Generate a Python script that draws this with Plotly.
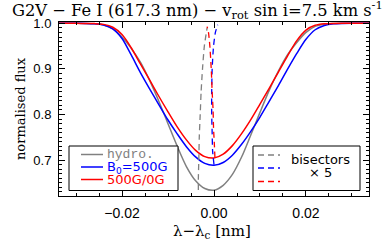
import plotly.graph_objects as go

# ---- data ----
wavelength = [-0.034, -0.032, -0.030, -0.028, -0.026, -0.024, -0.022, -0.020, -0.018, -0.016,
              -0.014, -0.012, -0.010, -0.008, -0.006, -0.004, -0.002, 0.000, 0.002, 0.004,
              0.006, 0.008, 0.010, 0.012, 0.014, 0.016, 0.018, 0.020, 0.022, 0.024,
              0.026, 0.028, 0.030, 0.032, 0.034]

flux_hydro = [1.0000, 1.0000, 1.0000, 0.9999, 0.9990, 0.9963, 0.9879, 0.9701, 0.9452, 0.9149,
              0.8749, 0.8292, 0.7796, 0.7304, 0.6857, 0.6545, 0.6375, 0.6338, 0.6445, 0.6684,
              0.7065, 0.7549, 0.8046, 0.8528, 0.8955, 0.9315, 0.9580, 0.9801, 0.9934, 0.9982,
              0.9996, 1.0000, 1.0000, 1.0000, 1.0000]

flux_b500 = [1.0000, 1.0000, 1.0000, 0.9999, 0.9992, 0.9965, 0.9881, 0.9668, 0.9306, 0.8919,
             0.8562, 0.8218, 0.7878, 0.7574, 0.7293, 0.7068, 0.6925, 0.6885, 0.6946, 0.7106,
             0.7345, 0.7629, 0.7944, 0.8287, 0.8632, 0.8994, 0.9340, 0.9650, 0.9860, 0.9955,
             0.9990, 0.9998, 1.0000, 1.0000, 1.0000]

flux_500_0 = [1.0000, 1.0000, 1.0000, 0.9999, 0.9995, 0.9978, 0.9915, 0.9755, 0.9465, 0.9109,
              0.8757, 0.8400, 0.8058, 0.7728, 0.7442, 0.7212, 0.7075, 0.7045, 0.7130, 0.7316,
              0.7579, 0.7887, 0.8229, 0.8574, 0.8931, 0.9287, 0.9621, 0.9853, 0.9957, 0.9990,
              0.9998, 1.0000, 1.0000, 1.0000, 1.0000]

# bisectors (x5 magnified), position vs flux level
bis_hydro_flux = [0.634, 0.660, 0.700, 0.750, 0.800, 0.850, 0.900, 0.950, 0.990]
bis_hydro_pos = [-0.0034, -0.0034, -0.0033, -0.0032, -0.0030, -0.0028, -0.0025, -0.0021, -0.0015]

bis_b500_flux = [0.690, 0.720, 0.760, 0.800, 0.850, 0.900, 0.950, 0.980, 0.997]
bis_b500_pos = [0.0000, -0.0003, -0.0004, -0.0005, -0.0005, -0.0004, -0.0001, 0.0003, 0.0008]

bis_500_0_flux = [0.705, 0.730, 0.770, 0.810, 0.850, 0.900, 0.950, 0.980, 0.993]
bis_500_0_pos = [0.0002, 0.0001, -0.0001, -0.0002, -0.0004, -0.0006, -0.0009, -0.0012, -0.0015]

series_names = ["hydro.", "B<sub>0</sub>=500G", "500G/0G"]
series_fonts = ["Liberation Mono", "DejaVu Sans", "DejaVu Sans"]
series_colors = ["#808080", "#0000ff", "#ff0000"]
bisector_labels = ["bisectors", "× 5"]

x_ticks = [-0.02, 0.0, 0.02]
y_ticks = [0.7, 0.8, 0.9, 1.0]

title_text = "G2V − Fe I (617.3 nm) − v<sub>rot</sub> sin i=7.5 km s<sup>-1</sup>"
x_title = "λ−λ<sub>c</sub> [nm]"
y_title = "normalised flux"

# ---- figure ----
fig = go.Figure()
profiles = [flux_hydro, flux_b500, flux_500_0]
for name, col, fl in zip(series_names, series_colors, profiles):
    fig.add_trace(go.Scatter(x=wavelength, y=fl, mode="lines", name=name,
                             line=dict(color=col, width=1.5, shape="spline", smoothing=0.8),
                             showlegend=False, hoverinfo="skip"))

bisectors = [(bis_hydro_pos, bis_hydro_flux), (bis_b500_pos, bis_b500_flux), (bis_500_0_pos, bis_500_0_flux)]
for (bx, by), col in zip(bisectors, series_colors):
    fig.add_trace(go.Scatter(x=bx, y=by, mode="lines",
                             line=dict(color=col, width=1.3, dash="6px,4px", shape="spline", smoothing=0.6),
                             showlegend=False, hoverinfo="skip"))

W, H = 387, 246
L, R, T, B = 59, 18, 22, 50
pw, ph = W - L - R, H - T - B

def px(xp):  # screen px -> paper
    return (xp - L) / pw

def py(yp):
    return (H - B - yp) / ph

# legend boxes
shapes = []
annotations = []
shapes.append(dict(type="rect", xref="paper", yref="paper", x0=px(69), x1=px(178), y0=py(190.5), y1=py(146),
                   line=dict(color="black", width=1), fillcolor="white", layer="above"))
shapes.append(dict(type="rect", xref="paper", yref="paper", x0=px(253), x1=px(360), y0=py(190.5), y1=py(146),
                   line=dict(color="black", width=1), fillcolor="white", layer="above"))

left_rows = [154.5, 167, 179.5]
for yy, col, name, fam in zip(left_rows, series_colors, series_names, series_fonts):
    shapes.append(dict(type="line", xref="paper", yref="paper", x0=px(81), x1=px(103), y0=py(yy), y1=py(yy),
                       line=dict(color=col, width=1.5), layer="above"))
    annotations.append(dict(xref="paper", yref="paper", x=px(105), y=py(yy), text=name, showarrow=False,
                            xanchor="left", yanchor="middle",
                            font=dict(family=fam, size=13, color=col)))

right_rows = [155, 168, 181.5]
for yy, col in zip(right_rows, series_colors):
    shapes.append(dict(type="line", xref="paper", yref="paper", x0=px(258), x1=px(280), y0=py(yy), y1=py(yy),
                       line=dict(color=col, width=1.3, dash="6px,4px"), layer="above"))
annotations.append(dict(xref="paper", yref="paper", x=px(320), y=py(159), text=bisector_labels[0], showarrow=False,
                        xanchor="center", yanchor="middle", font=dict(family="DejaVu Sans", size=13, color="black")))
annotations.append(dict(xref="paper", yref="paper", x=px(320), y=py(172.5), text=bisector_labels[1], showarrow=False,
                        xanchor="center", yanchor="middle", font=dict(family="DejaVu Sans", size=13, color="black")))

# axis titles
annotations.append(dict(xref="paper", yref="paper", x=px(20), y=0.5, text=y_title, textangle=-90, showarrow=False,
                        xanchor="center", yanchor="middle",
                        font=dict(family="DejaVu Serif", size=13, color="black")))
annotations.append(dict(xref="paper", yref="paper", x=px(212), y=py(231), text=x_title, showarrow=False,
                        xanchor="center", yanchor="middle",
                        font=dict(family="DejaVu Serif", size=15, color="black")))

fig.update_layout(
    width=W, height=H,
    margin=dict(l=L, r=R, t=T, b=B, pad=0, autoexpand=False),
    paper_bgcolor="white", plot_bgcolor="white",
    showlegend=False,
    title=dict(text=title_text,
               x=12 / W, xanchor="left", xref="container", y=1 - 10 / H, yanchor="middle",
               yref="container",
               font=dict(family="DejaVu Serif", size=16.3, color="black")),
    shapes=shapes, annotations=annotations,
)

fig.update_xaxes(range=[-0.0337, 0.0337], tickvals=x_ticks, tickformat=".2f", automargin=False,
                 ticks="inside", ticklen=6, tickcolor="black", mirror="allticks",
                 showline=True, linecolor="black", linewidth=1, showgrid=False, zeroline=False,
                 minor=dict(dtick=0.005, tick0=0, ticks="inside", ticklen=3, tickcolor="black", showgrid=False),
                 tickfont=dict(family="Liberation Sans", size=14, color="black"),
                 ticklabelstandoff=4)

fig.update_yaxes(range=[0.621, 1.003], tickvals=y_ticks, tickformat=".1f", automargin=False,
                 ticks="inside", ticklen=6, tickcolor="black", mirror="allticks",
                 showline=True, linecolor="black", linewidth=1, showgrid=False, zeroline=False,
                 minor=dict(dtick=0.01, tick0=0, ticks="inside", ticklen=3, tickcolor="black", showgrid=False),
                 tickfont=dict(family="Liberation Sans", size=13, color="black"),
                 ticklabelstandoff=4)

# remove the default 8px page margin so the figure sits at the window's top-left corner
fig.write_html("out.html", config={"displayModeBar": False},
               post_script="document.body.style.margin='0px';")
